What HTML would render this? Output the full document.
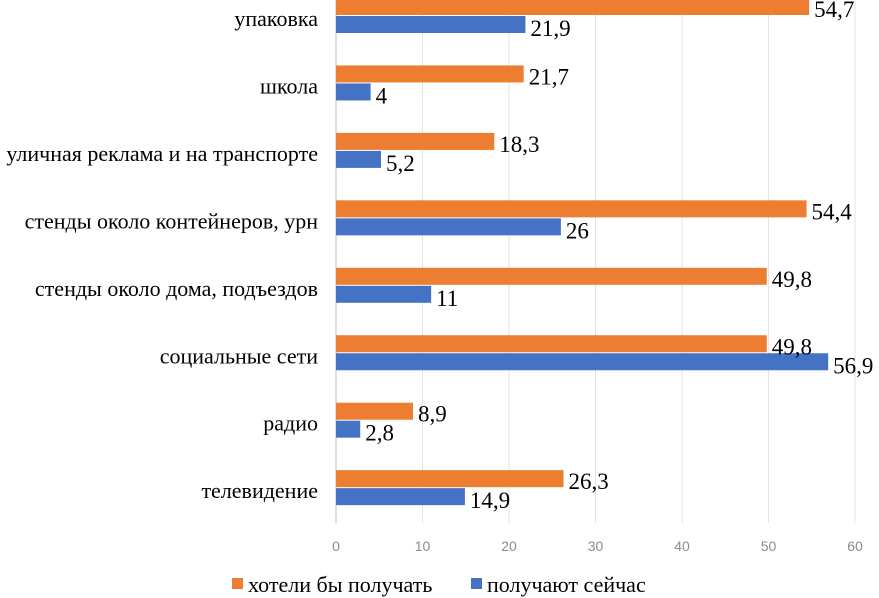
<!DOCTYPE html>
<html><head><meta charset="utf-8"><style>
body{margin:0;background:#fff;}
svg{display:block;}
</style></head><body>
<svg id="c" width="879" height="598" xmlns="http://www.w3.org/2000/svg"></svg>
<script>
const categories=["упаковка","школа","уличная реклама и на транспорте","стенды около контейнеров, урн","стенды около дома, подъездов","социальные сети","радио","телевидение"];
const wantValues=[54.7,21.7,18.3,54.4,49.8,49.8,8.9,26.3];
const nowValues=[21.9,4,5.2,26,11,56.9,2.8,14.9];
const ticks=[0,10,20,30,40,50,60];
const svg=document.getElementById('c');
const NS='http://www.w3.org/2000/svg';
const x=v=>336+v*(855-336)/60;
const rowY=i=>-15+i*67.45;
function el(t,a,txt){const e=document.createElementNS(NS,t);for(const k in a)e.setAttribute(k,a[k]);if(txt!==undefined)e.textContent=txt;svg.appendChild(e);return e;}
const serif='"Liberation Serif", serif';
ticks.forEach(t=>{
  const g=el('line',{x1:x(t),x2:x(t),y1:0,y2:523,stroke:t===0?'#bfbfbf':'#e3e3e3','stroke-width':1});
  
  
  const l=el('text',{x:x(t),y:551,'text-anchor':'middle','font-family':'"Liberation Sans", sans-serif','font-size':14,fill:'#8c8c8c'},String(t));
  
  
});
categories.forEach((c,i)=>{
  const y0=rowY(i);
  const lab=el('text',{x:318,y:y0+41,'text-anchor':'end','font-family':serif,'font-size':22,fill:'#000'},c);
  
  
  const b1=el('rect',{x:x(0),y:y0+13,width:x(wantValues[i])-x(0),height:17,fill:'#ED7D31'});
  
  
  const b2=el('rect',{x:x(0),y:y0+31,width:x(nowValues[i])-x(0),height:17,fill:'#4472C4'});
  
  
  const v1=el('text',{x:x(wantValues[i])+5,y:y0+32,'font-family':serif,'font-size':23,fill:'#000'},String(wantValues[i]).replace('.',','));
  
  
  const v2=el('text',{x:x(nowValues[i])+5,y:y0+51,'font-family':serif,'font-size':23,fill:'#000'},String(nowValues[i]).replace('.',','));
  
  
});
const l1=el('rect',{x:232,y:578,width:11,height:11,fill:'#ED7D31'});


const t1=el('text',{x:248,y:592,'font-family':serif,'font-size':22,fill:'#000'},'хотели бы получать');


const l2=el('rect',{x:471,y:578,width:11,height:11,fill:'#4472C4'});


const t2=el('text',{x:487,y:592,'font-family':serif,'font-size':22,fill:'#000'},'получают сейчас');


</script>
</body></html>
